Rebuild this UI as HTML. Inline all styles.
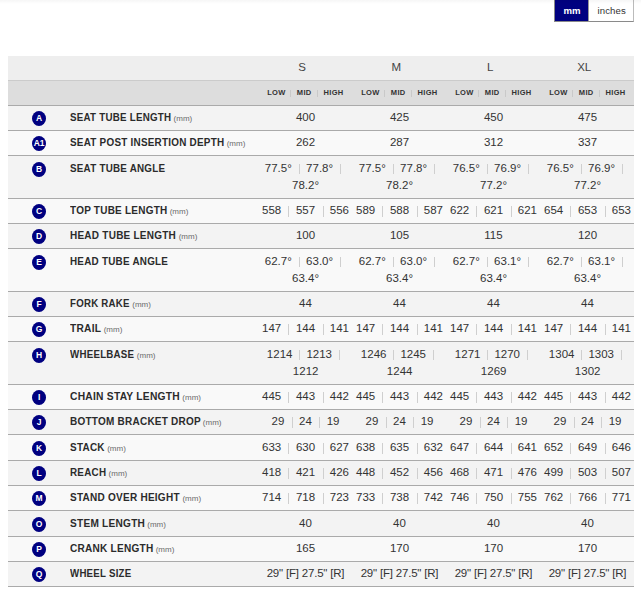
<!DOCTYPE html><html><head><meta charset="utf-8"><style>
*{box-sizing:border-box;margin:0;padding:0}
html,body{width:641px;height:590px;overflow:hidden;background:#fff}
body{position:relative;font-family:"Liberation Sans",sans-serif;color:#333}
.tog{position:absolute;top:-4px;height:26px;border-bottom:1px solid #8a8a8a;line-height:1}
.tog span{position:absolute;white-space:nowrap}
.row{position:absolute;left:8px;width:626px;border-bottom:1px solid #aaa}
.odd{background:#f3f3f3}
.even{background:#f9f9f9}
.badge{position:absolute;left:32px;width:14px;height:15px;border-radius:50%;background:#000080;color:#fff;font-weight:bold;font-size:8.5px;line-height:15px;text-align:center;letter-spacing:-0.3px}
.lab{position:absolute;left:70px;font-weight:bold;font-size:11.5px;letter-spacing:0.28px;white-space:nowrap;line-height:17px;color:#2b2b2b;transform:scaleX(0.865);transform-origin:0 0}
.mm{font-weight:normal;font-size:8px;letter-spacing:0;color:#6a6a6a;margin-left:2.6px;display:inline-block;transform:scaleX(1.156);transform-origin:0 0}
.n{position:absolute;width:100px;text-align:center;font-size:11.5px;line-height:17px;white-space:nowrap;color:#333}
.p{position:absolute;width:1px;height:11px;background:#cfcfcf}
.hd{position:absolute;top:56px;left:8px;width:626px;height:25px;background:#eeeeee;border-bottom:1px solid #cbcbcb}
.sh{position:absolute;top:81px;left:8px;width:626px;height:25px;background:#dddddd;border-bottom:1px solid #aaaaaa}
.size{position:absolute;width:94px;text-align:center;font-size:11.5px;line-height:17px;color:#444}
.sub{position:absolute;width:40px;text-align:center;font-size:7.5px;font-weight:bold;line-height:10px;color:#333;letter-spacing:0.3px;white-space:nowrap}
.sp{position:absolute;width:1px;height:8px;background:#c9c9c9}
.topg{position:absolute;left:0;top:0;width:641px;height:4px;background:linear-gradient(rgba(0,0,0,0.035),rgba(0,0,0,0))}
</style></head><body>
<div class="tog" style="left:554px;width:35px;background:#000080;border-left:1px solid #888"><span style="left:8.5px;top:10px;color:#fff;font-size:9.6px;font-weight:bold;letter-spacing:0px">mm</span></div>
<div class="tog" style="left:588px;width:46px;background:#fff;border-left:1px solid #999;border-right:1px solid #bbb"><span style="left:8.5px;top:10px;color:#333;font-size:9.6px;letter-spacing:0.1px">inches</span></div>
<div class="topg"></div>
<div class="hd"></div><div class="sh"></div>
<div class="size" style="left:255.2px;top:59px">S</div>
<div class="size" style="left:349.2px;top:59px">M</div>
<div class="size" style="left:443.2px;top:59px">L</div>
<div class="size" style="left:537.2px;top:59px">XL</div>
<div class="sub" style="left:256.40px;top:88px">LOW</div>
<div class="sub" style="left:284.20px;top:88px">MID</div>
<div class="sub" style="left:313.60px;top:88px">HIGH</div>
<div class="sp" style="left:290px;top:90px;height:7px"></div>
<div class="sp" style="left:317px;top:90px;height:7px"></div>
<div class="sub" style="left:350.40px;top:88px">LOW</div>
<div class="sub" style="left:378.20px;top:88px">MID</div>
<div class="sub" style="left:407.60px;top:88px">HIGH</div>
<div class="sp" style="left:384px;top:90px;height:7px"></div>
<div class="sp" style="left:411px;top:90px;height:7px"></div>
<div class="sub" style="left:444.40px;top:88px">LOW</div>
<div class="sub" style="left:472.20px;top:88px">MID</div>
<div class="sub" style="left:501.60px;top:88px">HIGH</div>
<div class="sp" style="left:478px;top:90px;height:7px"></div>
<div class="sp" style="left:505px;top:90px;height:7px"></div>
<div class="sub" style="left:538.40px;top:88px">LOW</div>
<div class="sub" style="left:566.20px;top:88px">MID</div>
<div class="sub" style="left:595.60px;top:88px">HIGH</div>
<div class="sp" style="left:572px;top:90px;height:7px"></div>
<div class="sp" style="left:599px;top:90px;height:7px"></div>
<div class="row odd" style="top:106px;height:25px"></div>
<div class="badge" style="top:111.0px">A</div>
<div class="lab" style="top:109px;transform:scaleX(0.8489)">SEAT TUBE LENGTH<span class="mm" style="transform:scaleX(1.1780);margin-left:2.65px">(mm)</span></div>
<div class="n" style="left:255.50px;top:109px">400</div>
<div class="n" style="left:349.50px;top:109px">425</div>
<div class="n" style="left:443.50px;top:109px">450</div>
<div class="n" style="left:537.50px;top:109px">475</div>
<div class="row even" style="top:131px;height:25px"></div>
<div class="badge" style="top:136.0px">A1</div>
<div class="lab" style="top:134px;transform:scaleX(0.8608)">SEAT POST INSERTION DEPTH<span class="mm" style="transform:scaleX(1.1617);margin-left:2.61px">(mm)</span></div>
<div class="n" style="left:255.50px;top:134px">262</div>
<div class="n" style="left:349.50px;top:134px">287</div>
<div class="n" style="left:443.50px;top:134px">312</div>
<div class="n" style="left:537.50px;top:134px">337</div>
<div class="row odd" style="top:156px;height:43px"></div>
<div class="badge" style="top:161.6px">B</div>
<div class="lab" style="top:160px;transform:scaleX(0.8541)">SEAT TUBE ANGLE</div>
<div class="n" style="left:228.25px;top:160px">77.5°</div>
<div class="p" style="left:299px;top:164px;height:10px"></div>
<div class="n" style="left:269.60px;top:160px">77.8°</div>
<div class="p" style="left:340px;top:164px;height:10px"></div>
<div class="n" style="left:255.55px;top:177px">78.2°</div>
<div class="n" style="left:322.25px;top:160px">77.5°</div>
<div class="p" style="left:393px;top:164px;height:10px"></div>
<div class="n" style="left:363.60px;top:160px">77.8°</div>
<div class="p" style="left:434px;top:164px;height:10px"></div>
<div class="n" style="left:349.55px;top:177px">78.2°</div>
<div class="n" style="left:416.25px;top:160px">76.5°</div>
<div class="p" style="left:487px;top:164px;height:10px"></div>
<div class="n" style="left:457.60px;top:160px">76.9°</div>
<div class="p" style="left:528px;top:164px;height:10px"></div>
<div class="n" style="left:443.55px;top:177px">77.2°</div>
<div class="n" style="left:510.25px;top:160px">76.5°</div>
<div class="p" style="left:581px;top:164px;height:10px"></div>
<div class="n" style="left:551.60px;top:160px">76.9°</div>
<div class="p" style="left:622px;top:164px;height:10px"></div>
<div class="n" style="left:537.55px;top:177px">77.2°</div>
<div class="row even" style="top:199px;height:25px"></div>
<div class="badge" style="top:204.0px">C</div>
<div class="lab" style="top:202px;transform:scaleX(0.8668)">TOP TUBE LENGTH<span class="mm" style="transform:scaleX(1.1537);margin-left:2.59px">(mm)</span></div>
<div class="n" style="left:221.60px;top:202px">558</div>
<div class="p" style="left:288px;top:206px;height:11px"></div>
<div class="n" style="left:255.50px;top:202px">557</div>
<div class="p" style="left:323px;top:206px;height:11px"></div>
<div class="n" style="left:289.35px;top:202px">556</div>
<div class="n" style="left:315.60px;top:202px">589</div>
<div class="p" style="left:382px;top:206px;height:11px"></div>
<div class="n" style="left:349.50px;top:202px">588</div>
<div class="p" style="left:417px;top:206px;height:11px"></div>
<div class="n" style="left:383.35px;top:202px">587</div>
<div class="n" style="left:409.60px;top:202px">622</div>
<div class="p" style="left:476px;top:206px;height:11px"></div>
<div class="n" style="left:443.50px;top:202px">621</div>
<div class="p" style="left:511px;top:206px;height:11px"></div>
<div class="n" style="left:477.35px;top:202px">621</div>
<div class="n" style="left:503.60px;top:202px">654</div>
<div class="p" style="left:570px;top:206px;height:11px"></div>
<div class="n" style="left:537.50px;top:202px">653</div>
<div class="p" style="left:605px;top:206px;height:11px"></div>
<div class="n" style="left:571.35px;top:202px">653</div>
<div class="row odd" style="top:224px;height:25px"></div>
<div class="badge" style="top:229.0px">D</div>
<div class="lab" style="top:227px;transform:scaleX(0.8692)">HEAD TUBE LENGTH<span class="mm" style="transform:scaleX(1.1505);margin-left:2.59px">(mm)</span></div>
<div class="n" style="left:255.50px;top:227px">100</div>
<div class="n" style="left:349.50px;top:227px">105</div>
<div class="n" style="left:443.50px;top:227px">115</div>
<div class="n" style="left:537.50px;top:227px">120</div>
<div class="row even" style="top:249px;height:43px"></div>
<div class="badge" style="top:254.6px">E</div>
<div class="lab" style="top:253px;transform:scaleX(0.8588)">HEAD TUBE ANGLE</div>
<div class="n" style="left:228.25px;top:253px">62.7°</div>
<div class="p" style="left:299px;top:257px;height:10px"></div>
<div class="n" style="left:269.60px;top:253px">63.0°</div>
<div class="p" style="left:340px;top:257px;height:10px"></div>
<div class="n" style="left:255.55px;top:270px">63.4°</div>
<div class="n" style="left:322.25px;top:253px">62.7°</div>
<div class="p" style="left:393px;top:257px;height:10px"></div>
<div class="n" style="left:363.60px;top:253px">63.0°</div>
<div class="p" style="left:434px;top:257px;height:10px"></div>
<div class="n" style="left:349.55px;top:270px">63.4°</div>
<div class="n" style="left:416.25px;top:253px">62.7°</div>
<div class="p" style="left:487px;top:257px;height:10px"></div>
<div class="n" style="left:457.60px;top:253px">63.1°</div>
<div class="p" style="left:528px;top:257px;height:10px"></div>
<div class="n" style="left:443.55px;top:270px">63.4°</div>
<div class="n" style="left:510.25px;top:253px">62.7°</div>
<div class="p" style="left:581px;top:257px;height:10px"></div>
<div class="n" style="left:551.60px;top:253px">63.1°</div>
<div class="p" style="left:622px;top:257px;height:10px"></div>
<div class="n" style="left:537.55px;top:270px">63.4°</div>
<div class="row odd" style="top:292px;height:25px"></div>
<div class="badge" style="top:297.0px">F</div>
<div class="lab" style="top:295px;transform:scaleX(0.8413)">FORK RAKE<span class="mm" style="transform:scaleX(1.1886);margin-left:2.67px">(mm)</span></div>
<div class="n" style="left:255.50px;top:295px">44</div>
<div class="n" style="left:349.50px;top:295px">44</div>
<div class="n" style="left:443.50px;top:295px">44</div>
<div class="n" style="left:537.50px;top:295px">44</div>
<div class="row even" style="top:317px;height:25px"></div>
<div class="badge" style="top:322.0px">G</div>
<div class="lab" style="top:320px;transform:scaleX(0.8857)">TRAIL<span class="mm" style="transform:scaleX(1.1291);margin-left:2.54px">(mm)</span></div>
<div class="n" style="left:221.60px;top:320px">147</div>
<div class="p" style="left:288px;top:324px;height:11px"></div>
<div class="n" style="left:255.50px;top:320px">144</div>
<div class="p" style="left:323px;top:324px;height:11px"></div>
<div class="n" style="left:289.35px;top:320px">141</div>
<div class="n" style="left:315.60px;top:320px">147</div>
<div class="p" style="left:382px;top:324px;height:11px"></div>
<div class="n" style="left:349.50px;top:320px">144</div>
<div class="p" style="left:417px;top:324px;height:11px"></div>
<div class="n" style="left:383.35px;top:320px">141</div>
<div class="n" style="left:409.60px;top:320px">147</div>
<div class="p" style="left:476px;top:324px;height:11px"></div>
<div class="n" style="left:443.50px;top:320px">144</div>
<div class="p" style="left:511px;top:324px;height:11px"></div>
<div class="n" style="left:477.35px;top:320px">141</div>
<div class="n" style="left:503.60px;top:320px">147</div>
<div class="p" style="left:570px;top:324px;height:11px"></div>
<div class="n" style="left:537.50px;top:320px">144</div>
<div class="p" style="left:605px;top:324px;height:11px"></div>
<div class="n" style="left:571.35px;top:320px">141</div>
<div class="row odd" style="top:342px;height:43px"></div>
<div class="badge" style="top:347.6px">H</div>
<div class="lab" style="top:346px;transform:scaleX(0.8461)">WHEELBASE<span class="mm" style="transform:scaleX(1.1819);margin-left:2.66px">(mm)</span></div>
<div class="n" style="left:229.65px;top:346px">1214</div>
<div class="p" style="left:299px;top:350px;height:10px"></div>
<div class="n" style="left:269.20px;top:346px">1213</div>
<div class="p" style="left:339px;top:350px;height:10px"></div>
<div class="n" style="left:255.65px;top:363px">1212</div>
<div class="n" style="left:323.65px;top:346px">1246</div>
<div class="p" style="left:393px;top:350px;height:10px"></div>
<div class="n" style="left:363.20px;top:346px">1245</div>
<div class="p" style="left:433px;top:350px;height:10px"></div>
<div class="n" style="left:349.65px;top:363px">1244</div>
<div class="n" style="left:417.65px;top:346px">1271</div>
<div class="p" style="left:487px;top:350px;height:10px"></div>
<div class="n" style="left:457.20px;top:346px">1270</div>
<div class="p" style="left:527px;top:350px;height:10px"></div>
<div class="n" style="left:443.65px;top:363px">1269</div>
<div class="n" style="left:511.65px;top:346px">1304</div>
<div class="p" style="left:581px;top:350px;height:10px"></div>
<div class="n" style="left:551.20px;top:346px">1303</div>
<div class="p" style="left:621px;top:350px;height:10px"></div>
<div class="n" style="left:537.65px;top:363px">1302</div>
<div class="row even" style="top:385px;height:25px"></div>
<div class="badge" style="top:390.0px">I</div>
<div class="lab" style="top:388px;transform:scaleX(0.8913)">CHAIN STAY LENGTH<span class="mm" style="transform:scaleX(1.1220);margin-left:2.52px">(mm)</span></div>
<div class="n" style="left:221.60px;top:388px">445</div>
<div class="p" style="left:288px;top:392px;height:11px"></div>
<div class="n" style="left:255.50px;top:388px">443</div>
<div class="p" style="left:323px;top:392px;height:11px"></div>
<div class="n" style="left:289.35px;top:388px">442</div>
<div class="n" style="left:315.60px;top:388px">445</div>
<div class="p" style="left:382px;top:392px;height:11px"></div>
<div class="n" style="left:349.50px;top:388px">443</div>
<div class="p" style="left:417px;top:392px;height:11px"></div>
<div class="n" style="left:383.35px;top:388px">442</div>
<div class="n" style="left:409.60px;top:388px">445</div>
<div class="p" style="left:476px;top:392px;height:11px"></div>
<div class="n" style="left:443.50px;top:388px">443</div>
<div class="p" style="left:511px;top:392px;height:11px"></div>
<div class="n" style="left:477.35px;top:388px">442</div>
<div class="n" style="left:503.60px;top:388px">445</div>
<div class="p" style="left:570px;top:392px;height:11px"></div>
<div class="n" style="left:537.50px;top:388px">443</div>
<div class="p" style="left:605px;top:392px;height:11px"></div>
<div class="n" style="left:571.35px;top:388px">442</div>
<div class="row odd" style="top:410px;height:25px"></div>
<div class="badge" style="top:415.0px">J</div>
<div class="lab" style="top:413px;transform:scaleX(0.8683)">BOTTOM BRACKET DROP<span class="mm" style="transform:scaleX(1.1517);margin-left:2.59px">(mm)</span></div>
<div class="n" style="left:227.95px;top:413px">29</div>
<div class="p" style="left:292px;top:417px;height:11px"></div>
<div class="n" style="left:255.40px;top:413px">24</div>
<div class="p" style="left:319px;top:417px;height:11px"></div>
<div class="n" style="left:283.10px;top:413px">19</div>
<div class="n" style="left:321.95px;top:413px">29</div>
<div class="p" style="left:386px;top:417px;height:11px"></div>
<div class="n" style="left:349.40px;top:413px">24</div>
<div class="p" style="left:413px;top:417px;height:11px"></div>
<div class="n" style="left:377.10px;top:413px">19</div>
<div class="n" style="left:415.95px;top:413px">29</div>
<div class="p" style="left:480px;top:417px;height:11px"></div>
<div class="n" style="left:443.40px;top:413px">24</div>
<div class="p" style="left:507px;top:417px;height:11px"></div>
<div class="n" style="left:471.10px;top:413px">19</div>
<div class="n" style="left:509.95px;top:413px">29</div>
<div class="p" style="left:574px;top:417px;height:11px"></div>
<div class="n" style="left:537.40px;top:413px">24</div>
<div class="p" style="left:601px;top:417px;height:11px"></div>
<div class="n" style="left:565.10px;top:413px">19</div>
<div class="row even" style="top:435px;height:26px"></div>
<div class="badge" style="top:440.5px">K</div>
<div class="lab" style="top:439px;transform:scaleX(0.865)">STACK<span class="mm" style="transform:scaleX(1.1561);margin-left:2.60px">(mm)</span></div>
<div class="n" style="left:221.60px;top:439px">633</div>
<div class="p" style="left:288px;top:443px;height:11px"></div>
<div class="n" style="left:255.50px;top:439px">630</div>
<div class="p" style="left:323px;top:443px;height:11px"></div>
<div class="n" style="left:289.35px;top:439px">627</div>
<div class="n" style="left:315.60px;top:439px">638</div>
<div class="p" style="left:382px;top:443px;height:11px"></div>
<div class="n" style="left:349.50px;top:439px">635</div>
<div class="p" style="left:417px;top:443px;height:11px"></div>
<div class="n" style="left:383.35px;top:439px">632</div>
<div class="n" style="left:409.60px;top:439px">647</div>
<div class="p" style="left:476px;top:443px;height:11px"></div>
<div class="n" style="left:443.50px;top:439px">644</div>
<div class="p" style="left:511px;top:443px;height:11px"></div>
<div class="n" style="left:477.35px;top:439px">641</div>
<div class="n" style="left:503.60px;top:439px">652</div>
<div class="p" style="left:570px;top:443px;height:11px"></div>
<div class="n" style="left:537.50px;top:439px">649</div>
<div class="p" style="left:605px;top:443px;height:11px"></div>
<div class="n" style="left:571.35px;top:439px">646</div>
<div class="row odd" style="top:461px;height:25px"></div>
<div class="badge" style="top:466.0px">L</div>
<div class="lab" style="top:464px;transform:scaleX(0.8576)">REACH<span class="mm" style="transform:scaleX(1.1660);margin-left:2.62px">(mm)</span></div>
<div class="n" style="left:221.60px;top:464px">418</div>
<div class="p" style="left:288px;top:468px;height:11px"></div>
<div class="n" style="left:255.50px;top:464px">421</div>
<div class="p" style="left:323px;top:468px;height:11px"></div>
<div class="n" style="left:289.35px;top:464px">426</div>
<div class="n" style="left:315.60px;top:464px">448</div>
<div class="p" style="left:382px;top:468px;height:11px"></div>
<div class="n" style="left:349.50px;top:464px">452</div>
<div class="p" style="left:417px;top:468px;height:11px"></div>
<div class="n" style="left:383.35px;top:464px">456</div>
<div class="n" style="left:409.60px;top:464px">468</div>
<div class="p" style="left:476px;top:468px;height:11px"></div>
<div class="n" style="left:443.50px;top:464px">471</div>
<div class="p" style="left:511px;top:468px;height:11px"></div>
<div class="n" style="left:477.35px;top:464px">476</div>
<div class="n" style="left:503.60px;top:464px">499</div>
<div class="p" style="left:570px;top:468px;height:11px"></div>
<div class="n" style="left:537.50px;top:464px">503</div>
<div class="p" style="left:605px;top:468px;height:11px"></div>
<div class="n" style="left:571.35px;top:464px">507</div>
<div class="row even" style="top:486px;height:25px"></div>
<div class="badge" style="top:491.0px">M</div>
<div class="lab" style="top:489px;transform:scaleX(0.8714)">STAND OVER HEIGHT<span class="mm" style="transform:scaleX(1.1476);margin-left:2.58px">(mm)</span></div>
<div class="n" style="left:221.60px;top:489px">714</div>
<div class="p" style="left:288px;top:493px;height:11px"></div>
<div class="n" style="left:255.50px;top:489px">718</div>
<div class="p" style="left:323px;top:493px;height:11px"></div>
<div class="n" style="left:289.35px;top:489px">723</div>
<div class="n" style="left:315.60px;top:489px">733</div>
<div class="p" style="left:382px;top:493px;height:11px"></div>
<div class="n" style="left:349.50px;top:489px">738</div>
<div class="p" style="left:417px;top:493px;height:11px"></div>
<div class="n" style="left:383.35px;top:489px">742</div>
<div class="n" style="left:409.60px;top:489px">746</div>
<div class="p" style="left:476px;top:493px;height:11px"></div>
<div class="n" style="left:443.50px;top:489px">750</div>
<div class="p" style="left:511px;top:493px;height:11px"></div>
<div class="n" style="left:477.35px;top:489px">755</div>
<div class="n" style="left:503.60px;top:489px">762</div>
<div class="p" style="left:570px;top:493px;height:11px"></div>
<div class="n" style="left:537.50px;top:489px">766</div>
<div class="p" style="left:605px;top:493px;height:11px"></div>
<div class="n" style="left:571.35px;top:489px">771</div>
<div class="row odd" style="top:511px;height:26px"></div>
<div class="badge" style="top:516.5px">O</div>
<div class="lab" style="top:515px;transform:scaleX(0.8782)">STEM LENGTH<span class="mm" style="transform:scaleX(1.1387);margin-left:2.56px">(mm)</span></div>
<div class="n" style="left:255.50px;top:515px">40</div>
<div class="n" style="left:349.50px;top:515px">40</div>
<div class="n" style="left:443.50px;top:515px">40</div>
<div class="n" style="left:537.50px;top:515px">40</div>
<div class="row even" style="top:537px;height:25px"></div>
<div class="badge" style="top:542.0px">P</div>
<div class="lab" style="top:540px;transform:scaleX(0.8746)">CRANK LENGTH<span class="mm" style="transform:scaleX(1.1434);margin-left:2.57px">(mm)</span></div>
<div class="n" style="left:255.50px;top:540px">165</div>
<div class="n" style="left:349.50px;top:540px">170</div>
<div class="n" style="left:443.50px;top:540px">170</div>
<div class="n" style="left:537.50px;top:540px">170</div>
<div class="row odd" style="top:562px;height:25px"></div>
<div class="badge" style="top:567.0px">Q</div>
<div class="lab" style="top:565px;transform:scaleX(0.8427)">WHEEL SIZE</div>
<div class="n" style="left:255.50px;top:565px;letter-spacing:-0.2px">29" [F] 27.5" [R]</div>
<div class="n" style="left:349.50px;top:565px;letter-spacing:-0.2px">29" [F] 27.5" [R]</div>
<div class="n" style="left:443.50px;top:565px;letter-spacing:-0.2px">29" [F] 27.5" [R]</div>
<div class="n" style="left:537.50px;top:565px;letter-spacing:-0.2px">29" [F] 27.5" [R]</div>
</body></html>
